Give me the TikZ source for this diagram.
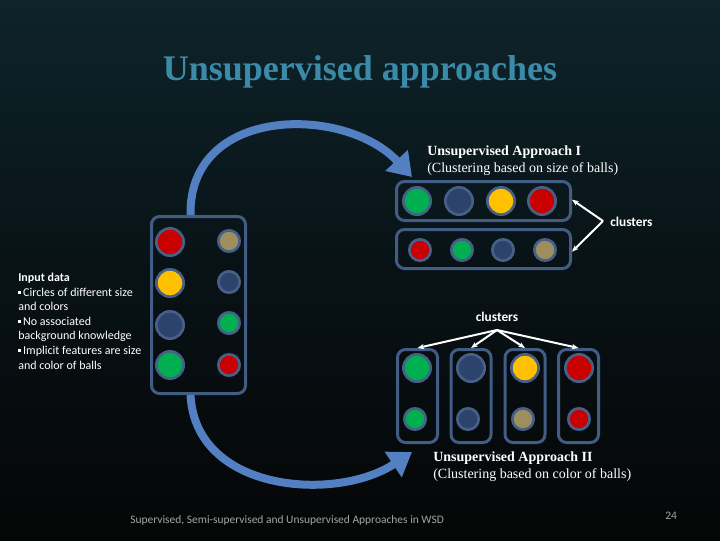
\documentclass[tikz,border=0pt]{standalone}
\usepackage{fontspec}
\setmainfont{Liberation Serif}
\newfontfamily\calfont{Carlito}
\usetikzlibrary{arrows.meta}
\definecolor{bgtop}{RGB}{14,36,42}
\definecolor{bgmid}{RGB}{8,18,22}
\definecolor{bgbot}{RGB}{5,6,6}
\definecolor{titlecol}{RGB}{58,138,168}
\definecolor{cgreen}{RGB}{0,176,80}
\definecolor{cblue}{RGB}{44,68,108}
\definecolor{cyellow}{RGB}{255,192,0}
\definecolor{cred}{RGB}{200,0,0}
\definecolor{ctan}{RGB}{158,142,94}
\definecolor{ringcol}{RGB}{70,96,136}
\definecolor{boxcol}{RGB}{66,92,132}
\definecolor{arrowcol}{RGB}{82,128,194}
\definecolor{footcol}{RGB}{165,165,165}
\newcommand\bul{\raisebox{1.6pt}{\rule{2.2pt}{2.2pt}}\,}
\begin{document}
\begin{tikzpicture}[x=0.75pt,y=-0.75pt,
  ball/.style={circle, draw=ringcol, line width=2pt, inner sep=0pt},
  bigball/.style={ball, minimum size=20.5pt},
  smallball/.style={ball, minimum size=16pt},
  box/.style={draw=boxcol, line width=2.25pt, rounded corners=6pt, inner sep=0pt},
  clline/.style={draw=white, line width=1.5pt, -{Stealth[length=5pt,width=4pt]}},
  bigarrow/.style={draw=arrowcol, line width=6pt, -{Triangle[length=17pt,width=22pt]}},
  approach/.style={text=white, font=\fontsize{10.5pt}{12.75pt}\selectfont, align=left, anchor=base west, inner sep=0pt},
  cltext/.style={text=white, font=\calfont\bfseries\fontsize{10pt}{12pt}\selectfont, inner sep=0pt}]
\shade[top color=bgtop, bottom color=bgbot, middle color=bgmid] (0,0) rectangle (720,540);
\useasboundingbox (0,0) rectangle (720,540);

% title
\node[text=titlecol, font=\bfseries\fontsize{27pt}{30pt}\selectfont, anchor=base, inner sep=0pt] (title) at (360,80) {Unsupervised approaches};

% input box
\node[box, minimum width=70.5pt, minimum height=132.75pt] (inbox) at (198.5,305) {};
\node[bigball, fill=cred] (in1) at (170,242) {};
\node[bigball, fill=cyellow] (in2) at (170,283) {};
\node[bigball, fill=cblue] (in3) at (170,325) {};
\node[bigball, fill=cgreen] (in4) at (170,365) {};
\node[smallball, fill=ctan] (in5) at (229,241) {};
\node[smallball, fill=cblue] (in6) at (229,282) {};
\node[smallball, fill=cgreen] (in7) at (229,323) {};
\node[smallball, fill=cred] (in8) at (229,365) {};

% input text (base = last line)
\node[text=white, font=\calfont\fontsize{9pt}{10.9pt}\selectfont, align=left, anchor=base west, inner sep=0pt] (intext) at (18,369)
{\textbf{Input data}\\ \bul Circles of different size\\ and colors\\ \bul No associated\\ background knowledge\\ \bul Implicit features are size\\ and color of balls};

% approach I
\node[approach] (apI) at (427,172) {\textbf{Unsupervised Approach I}\\(Clustering based on size of balls)};
\node[box, minimum width=130.5pt, minimum height=29.25pt] (tbox1) at (483.5,201) {};
\node[box, minimum width=130.5pt, minimum height=29.25pt] (tbox2) at (483.5,249) {};
\node[bigball, fill=cgreen] (t1) at (417,201) {};
\node[bigball, fill=cblue] (t2) at (459,201) {};
\node[bigball, fill=cyellow] (t3) at (501,201) {};
\node[bigball, fill=cred] (t4) at (542,201) {};
\node[smallball, fill=cred] (t5) at (420,250) {};
\node[smallball, fill=cgreen] (t6) at (462,250) {};
\node[smallball, fill=cblue] (t7) at (503,250) {};
\node[smallball, fill=ctan] (t8) at (545,250) {};
\coordinate (cv1) at (603,221);
\node[cltext, anchor=west] (cl1) at (610,222) {clusters};
\draw[clline] (cv1) -- ([yshift=1pt]tbox1.east);
\draw[clline] (cv1) -- ([yshift=-2pt]tbox2.east);

% approach II
\node[box, minimum width=30pt, minimum height=69.75pt] (bbox1) at (417.5,396) {};
\node[box, minimum width=30pt, minimum height=69.75pt] (bbox2) at (471,396) {};
\node[box, minimum width=30pt, minimum height=69.75pt] (bbox3) at (525,396) {};
\node[box, minimum width=30pt, minimum height=69.75pt] (bbox4) at (578.5,396) {};
\node[bigball, fill=cgreen] (b1) at (417,368) {};
\node[bigball, fill=cblue] (b2) at (471,368) {};
\node[bigball, fill=cyellow] (b3) at (525,368) {};
\node[bigball, fill=cred] (b4) at (579,368) {};
\node[smallball, fill=cgreen] (b5) at (415,419) {};
\node[smallball, fill=cblue] (b6) at (468,419) {};
\node[smallball, fill=ctan] (b7) at (523,419) {};
\node[smallball, fill=cred] (b8) at (579,419) {};
\node[cltext] (cl2) at (497,317) {clusters};
\coordinate (cv2) at (497,330);
\draw[clline] (cv2) -- (bbox1.north);
\draw[clline] (cv2) -- (bbox2.north);
\draw[clline] (cv2) -- (bbox3.north);
\draw[clline] (cv2) -- (bbox4.north);
\node[approach] (apII) at (433,478) {\textbf{Unsupervised Approach II}\\(Clustering based on color of balls)};

% curved arrows
\draw[bigarrow] ([xshift=-6pt]inbox.north) .. controls +(-2,-110) and +(-67,-72) .. ([shift={(17,-3)}]tbox1.north west);
\draw[bigarrow] ([xshift=-6pt]inbox.south) .. controls +(5,98) and +(-75,50) .. ([shift={(16,8)}]bbox1.south west);

% footer
\node[text=footcol, font=\calfont\fontsize{8.6pt}{10pt}\selectfont, anchor=base west, inner sep=0pt] (foot) at (130,523) {Supervised, Semi-supervised and Unsupervised Approaches in WSD};
\node[text=footcol, font=\calfont\fontsize{8.6pt}{10pt}\selectfont, anchor=base west, inner sep=0pt] (page) at (665,519) {24};
\end{tikzpicture}
\end{document}
